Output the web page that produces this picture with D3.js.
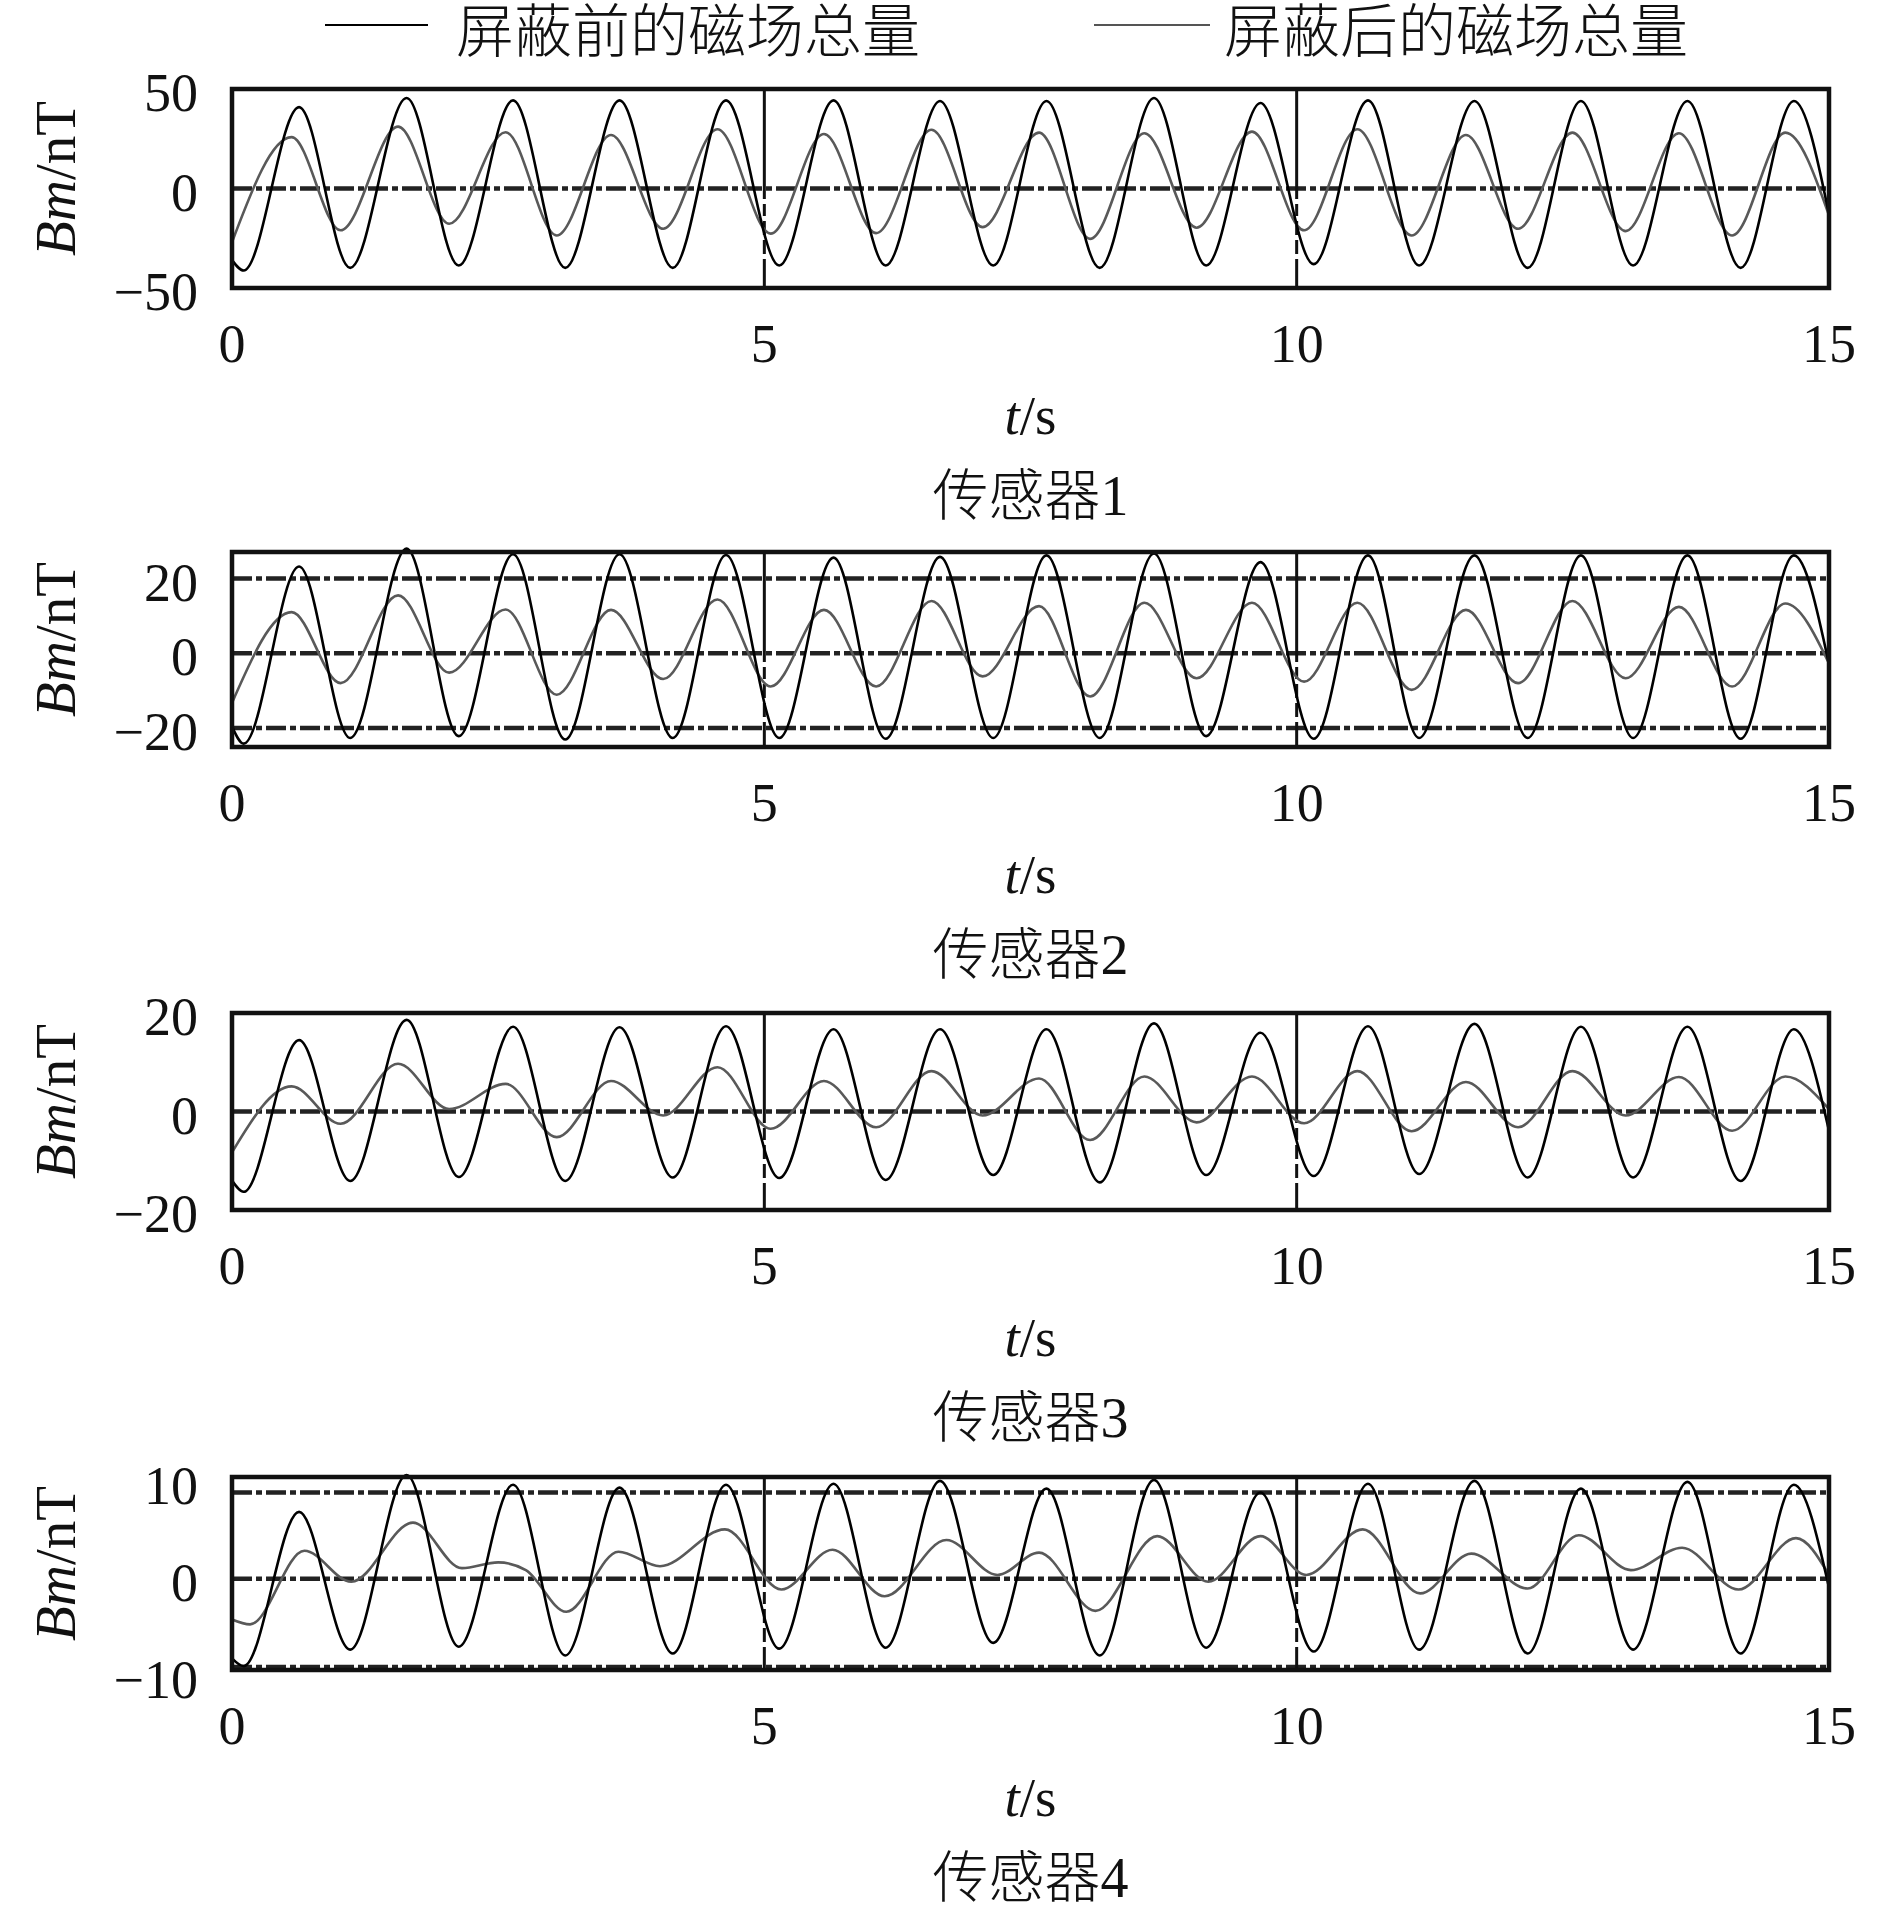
<!DOCTYPE html>
<html>
<head>
<meta charset="utf-8">
<script src="https://cdn.jsdelivr.net/npm/d3@7"></script>
<style>
  body { margin: 0; background: #fff; }
  svg text { fill: #111; }
</style>
</head>
<body>
<div id="chart"></div>
<script>
// ---- data ----
// times (s) of the extremes, same for every sensor
var tPeakBefore   = [0.63, 1.64, 2.64, 3.64, 4.64, 5.65, 6.65, 7.65, 8.66, 9.66, 10.67, 11.67, 12.67, 13.67, 14.67];
var tTroughBefore = [0.11, 1.11, 2.13, 3.13, 4.14, 5.14, 6.14, 7.15, 8.15, 9.15, 10.16, 11.15, 12.17, 13.16, 14.17];
var tPeakAfter    = [0.56, 1.56, 2.57, 3.56, 4.56, 5.56, 6.57, 7.58, 8.57, 9.58, 10.57, 11.59, 12.59, 13.59, 14.59];
var tTroughAfter  = [1.02, 2.04, 3.05, 4.05, 5.06, 6.05, 7.05, 8.06, 9.06, 10.07, 11.08, 12.08, 13.09, 14.09];

// sensor 1
var before1Start = -36, before1End = -13;
var before1Peaks   = [40.9, 45.5, 44.3, 44.3, 44.3, 44.3, 44, 44, 45.5, 43, 44.3, 44, 44, 44, 44];
var before1Troughs = [-41.2, -39.9, -38.7, -39.9, -39.9, -38.7, -38.7, -38.7, -39.9, -38.7, -38, -38.7, -39.9, -38.7, -39.9];
var after1Start = -27, after1End = -13.5;
var after1Peaks   = [25.8, 31.1, 28.3, 26.9, 29.8, 27.4, 29.5, 28.1, 27.8, 28.6, 29.8, 26.9, 28.1, 27.8, 28.1];
var after1Troughs = [-21, -17.7, -23.6, -20.2, -22.7, -22.4, -19.4, -25.3, -19.7, -21, -23.6, -20.2, -21.4, -23.6];

// sensor 2
var before2Start = -19.6, before2End = -3;
var before2Peaks   = [23.2, 28, 26.5, 26.5, 26.3, 25.6, 25.8, 26.2, 26.7, 24.4, 26.2, 26.2, 26.2, 26.2, 26.2];
var before2Troughs = [-24.2, -22.7, -22.2, -23.1, -22.7, -22.7, -22.9, -22.7, -22.7, -22.2, -22.9, -22.7, -22.7, -22.7, -22.9];
var after2Start = -13.3, after2End = -2.7;
var after2Peaks   = [11, 15.5, 11.7, 11.6, 14.4, 11.6, 14, 12.6, 13.5, 13.5, 13.5, 11.6, 14, 12.4, 13.3];
var after2Troughs = [-8, -5.2, -11.1, -6.9, -8.9, -8.9, -6.2, -11.6, -6.7, -7.6, -9.8, -8, -6.7, -8.9];

// sensor 3
var before3Start = -14, before3End = -3.9;
var before3Peaks   = [14.5, 18.6, 17.2, 17.1, 17.3, 16.7, 16.7, 16.7, 17.9, 16, 17.3, 17.8, 17.2, 17.2, 16.7];
var before3Troughs = [-16.3, -14.1, -13.3, -14.1, -13.4, -13.5, -13.9, -12.9, -14.4, -12.9, -13.1, -12.7, -13.4, -13.4, -14.1];
var after3Start = -8.3, after3End = 0.5;
var after3Peaks   = [5.1, 9.7, 5.6, 6.2, 9, 6.2, 8.2, 6.7, 7.1, 7.1, 8.2, 6, 8.2, 7, 7.1];
var after3Troughs = [-2.5, 0.5, -5.2, -0.8, -3.5, -3.2, -0.8, -5.8, -2.2, -2.4, -4, -3.2, -0.8, -3.9];

// sensor 4
var before4Start = -8.2, before4End = -0.9;
var before4Peaks   = [6.9, 10.7, 9.7, 9.4, 9.7, 9.8, 10.1, 9.3, 10.2, 8.9, 9.8, 10.1, 9.3, 10, 9.7];
var before4Troughs = [-9, -7.3, -7, -7.9, -7.7, -7.2, -7.1, -6.6, -7.9, -7.1, -7.5, -7.3, -7.7, -7.3, -7.7];
// after shielding, sensor 4 has extra bumps: [t, value]
var after4 = [[0, -4.2], [0.17, -4.7], [0.68, 2.9], [1.12, -0.3], [1.7, 5.8], [2.16, 1.1], [2.5, 1.7],
  [2.76, 0.9], [3.14, -3.4], [3.63, 2.8], [4.02, 1.3], [4.63, 5.1], [5.16, -1.1], [5.64, 3.0],
  [6.13, -1.8], [6.71, 4.0], [7.19, 0.4], [7.58, 2.7], [8.11, -3.3], [8.69, 4.4], [9.17, -0.3],
  [9.66, 4.4], [10.09, 0.4], [10.62, 5.1], [11.16, -1.5], [11.64, 2.6], [12.17, -1.0], [12.65, 4.5],
  [13.14, 0.9], [13.62, 3.2], [14.15, -1.1], [14.69, 4.2], [15, 0.4]];

var xTicks = [0, 5, 10, 15];
var xLines = [5, 10];
var sensorNames = ["传感器1", "传感器2", "传感器3", "传感器4"];
var legendNames = ["屏蔽前的磁场总量", "屏蔽后的磁场总量"];

// put start, extremes and end together in time order
function buildSeries(start, peaks, troughs, end, tPeaks, tTroughs) {
  var pts = [[0, start]];
  peaks.forEach(function(v, i) { pts.push([tPeaks[i], v]); });
  troughs.forEach(function(v, i) { pts.push([tTroughs[i], v]); });
  pts.push([15, end]);
  return pts.sort(function(a, b) { return a[0] - b[0]; });
}

var panels = [
  {top: 89,   bottom: 288,  yDomain: [-50, 50],     yTicks: [-50, 0, 50], grid: [0],
   before: buildSeries(before1Start, before1Peaks, before1Troughs, before1End, tPeakBefore, tTroughBefore),
   after:  buildSeries(after1Start, after1Peaks, after1Troughs, after1End, tPeakAfter, tTroughAfter)},
  {top: 552,  bottom: 747,  yDomain: [-25.1, 27.1], yTicks: [-20, 0, 20], grid: [-20, 0, 20],
   before: buildSeries(before2Start, before2Peaks, before2Troughs, before2End, tPeakBefore, tTroughBefore),
   after:  buildSeries(after2Start, after2Peaks, after2Troughs, after2End, tPeakAfter, tTroughAfter)},
  {top: 1013, bottom: 1210, yDomain: [-20, 20],     yTicks: [-20, 0, 20], grid: [0],
   before: buildSeries(before3Start, before3Peaks, before3Troughs, before3End, tPeakBefore, tTroughBefore),
   after:  buildSeries(after3Start, after3Peaks, after3Troughs, after3End, tPeakAfter, tTroughAfter)},
  {top: 1477, bottom: 1670, yDomain: [-9.4, 10.5],  yTicks: [-10, 0, 10], grid: [-9.1, 0, 8.9],
   before: buildSeries(before4Start, before4Peaks, before4Troughs, before4End, tPeakBefore, tTroughBefore),
   after:  after4}
];

// ---- drawing ----
var width = 1890, height = 1916;
var left = 232, right = 1829;
var numFont = "'Liberation Serif', 'Times New Roman', serif";
var cjkFont = "'Liberation Serif', 'Noto Sans CJK SC', serif";
var darkDash = "#222";

var svg = d3.select("#chart")
  .append("svg")
  .attr("width", width)
  .attr("height", height);

var x = d3.scaleLinear().domain([0, 15]).range([left, right]);

// legend
var legend = svg.append("g");
var legendX = [[325, 428, 456], [1094, 1210, 1224]];
legendNames.forEach(function(name, i) {
  legend.append("line")
    .attr("x1", legendX[i][0]).attr("x2", legendX[i][1])
    .attr("y1", 25).attr("y2", 25)
    .attr("stroke", i == 0 ? "#000" : "#555")
    .attr("stroke-width", 2.2);
  legend.append("text")
    .attr("x", legendX[i][2])
    .attr("y", 52)
    .style("font-family", cjkFont)
    .style("font-size", "58px")
    .style("font-weight", 300)
    .text(name);
});

panels.forEach(function(p, k) {
  var y = d3.scaleLinear().domain(p.yDomain).range([p.bottom, p.top]);
  var g = svg.append("g");

  // dash-dot horizontal grid
  g.selectAll(".hgrid")
    .data(p.grid).enter().append("line")
    .attr("x1", left).attr("x2", right)
    .attr("y1", function(d) { return y(d); })
    .attr("y2", function(d) { return y(d); })
    .attr("stroke", darkDash)
    .attr("stroke-width", 4.5)
    .attr("stroke-dasharray", "20,4,6,4");

  // vertical lines at 5 s and 10 s
  g.selectAll(".vgrid")
    .data(xLines).enter().append("line")
    .attr("x1", function(d) { return x(d); })
    .attr("x2", function(d) { return x(d); })
    .attr("y1", p.top).attr("y2", p.bottom)
    .attr("stroke", "#111")
    .attr("stroke-width", 3)
    .attr("stroke-dasharray", "110,5,12,5,14,5,14,5,200");

  var line = d3.line()
    .x(function(d) { return x(d[0]); })
    .y(function(d) { return y(d[1]); })
    .curve(d3.curveMonotoneX);

  g.append("path")
    .datum(p.after)
    .attr("d", line)
    .attr("fill", "none")
    .attr("stroke", "#595959")
    .attr("stroke-width", 2.6);

  g.append("path")
    .datum(p.before)
    .attr("d", line)
    .attr("fill", "none")
    .attr("stroke", "#000")
    .attr("stroke-width", 2.6);

  // frame
  g.append("rect")
    .attr("x", left).attr("y", p.top)
    .attr("width", right - left).attr("height", p.bottom - p.top)
    .attr("fill", "none")
    .attr("stroke", "#111")
    .attr("stroke-width", 4.5);

  // y tick labels
  g.selectAll(".ytick")
    .data(p.yTicks).enter().append("text")
    .attr("x", 198)
    .attr("y", function(d) { return y(d) + 4; })
    .attr("text-anchor", "end")
    .attr("dominant-baseline", "central")
    .style("font-family", numFont)
    .style("font-size", "54px")
    .text(function(d) { return d < 0 ? "\u2212" + Math.abs(d) : d; });

  // x tick labels
  g.selectAll(".xtick")
    .data(xTicks).enter().append("text")
    .attr("x", function(d) { return x(d); })
    .attr("y", p.bottom + 74)
    .attr("text-anchor", "middle")
    .style("font-family", numFont)
    .style("font-size", "54px")
    .text(function(d) { return d; });

  // y axis title
  var yt = g.append("text")
    .attr("transform", "translate(55," + ((p.top + p.bottom) / 2 - 10) + ")rotate(-90)")
    .attr("text-anchor", "middle")
    .attr("dominant-baseline", "central")
    .style("font-family", numFont)
    .style("font-size", "57px");
  yt.append("tspan").style("font-style", "italic").text("Bm");
  yt.append("tspan").text("/nT");

  // x axis title
  var xt = g.append("text")
    .attr("x", (left + right) / 2)
    .attr("y", p.bottom + 146)
    .attr("text-anchor", "middle")
    .style("font-family", numFont)
    .style("font-size", "55px");
  xt.append("tspan").style("font-style", "italic").text("t");
  xt.append("tspan").text("/s");

  // sensor caption
  g.append("text")
    .attr("x", (left + right) / 2)
    .attr("y", p.bottom + 227)
    .attr("text-anchor", "middle")
    .style("font-family", cjkFont)
    .style("font-size", "56px")
    .style("font-weight", 300)
    .text(sensorNames[k]);
});
</script>
</body>
</html>
